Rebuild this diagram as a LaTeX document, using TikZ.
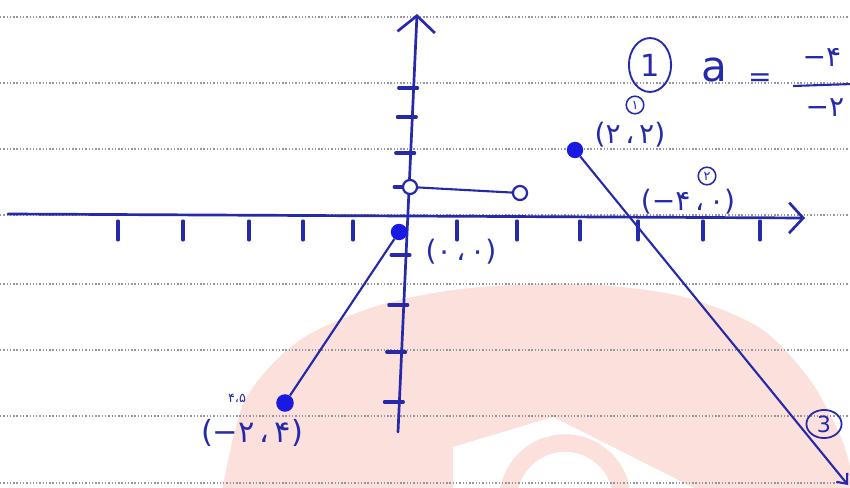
\documentclass[tikz,border=0pt]{standalone}
\usepackage{fontspec}
\setmainfont{DejaVu Sans}
\usetikzlibrary{arrows.meta, calc, shapes.geometric}
\definecolor{ink}{RGB}{38,42,170}
\definecolor{dotblue}{RGB}{25,25,225}
\definecolor{paper}{RGB}{150,150,162}
\definecolor{wmark}{RGB}{251,224,219}

\begin{document}
\begin{tikzpicture}[
    x=0.03cm, y=-0.03cm,
    paperline/.style={draw=paper, line width=1.1pt, dash pattern=on 1.2pt off 1.6pt},
    axis/.style={draw=ink, line width=2.3pt, line cap=round},
    tick/.style={draw=ink, line width=2.6pt, line cap=round},
    graph/.style={draw=ink, line width=1.8pt},
    fdot/.style={circle, fill=dotblue, inner sep=0pt, minimum size=14pt},
    odot/.style={circle, draw=ink, fill=white, line width=1.9pt, inner sep=0pt, minimum size=12pt},
    lbl/.style={text=ink, font=\fontsize{24}{26}\selectfont, inner sep=1pt},
    ring/.style={circle, draw=ink, line width=1.3pt, text=ink, inner sep=0pt,
                 minimum size=15pt, font=\fontsize{11}{12}\selectfont},
]

\path[use as bounding box] (0,0) rectangle (850,488);
\clip (0,0) rectangle (850,488);

% ════════════════════════════════════════════════════════
% 0. WATERMARK
% ════════════════════════════════════════════════════════
\fill[wmark] plot[smooth] coordinates {(222,492) (245,400) (300,340) (380,305)
    (470,288) (580,284) (680,296) (760,328) (810,380) (842,440) (856,492)} -- cycle;
\fill[white] (453,492) -- (453,447) -- (553,417) -- (702,492) -- cycle;
\draw[wmark, line width=15pt] (508,500) arc[start angle=180, delta angle=180, radius=57];

% ════════════════════════════════════════════════════════
% 1. RULED PAPER
% ════════════════════════════════════════════════════════
\foreach \y in {17,83,149,215,284,350,416,483}{
    \draw[paperline] (0,\y) -- (850,\y);
}

% ════════════════════════════════════════════════════════
% 2. AXES
% ════════════════════════════════════════════════════════
\coordinate (xstart) at (8,214);
\coordinate (xend) at (805,218);
\coordinate (ystart) at (398,432);
\coordinate (yend) at (417,14);

\draw[axis, -{Straight Barb[length=12pt, width=26pt]}] (xstart) -- (xend);
\draw[axis, -{Straight Barb[length=14pt, width=32pt]}] (ystart) -- (yend);

% ticks
\foreach \x in {118,183,249,303,353,457,517,580,638,703,760}{
    \draw[tick] (\x,221) -- (\x,240);
}
\foreach \y in {88,117,153,187,255,305,352,402}{
    \pgfmathsetmacro\ax{398+(432-\y)*19/418}
    \draw[tick] (\ax-15,\y) -- (\ax+4,\y);
}

% ════════════════════════════════════════════════════════
% 3. GRAPH PIECES
% ════════════════════════════════════════════════════════
\node[odot] (p1) at (410,187) {};
\node[odot] (p2) at (520,193) {};
\draw[graph] (p1) -- (p2);

\node[fdot] (o) at (399,232) {};
\node[fdot, minimum size=15pt] (a) at (285,403) {};
\draw[graph] (o) -- (a);

\node[fdot] (b) at (575,150) {};
\coordinate (bend) at (848,485);
\draw[graph, -{Straight Barb[length=7pt, width=12pt]}] (b) -- (bend);

% ════════════════════════════════════════════════════════
% 4. LABELS
% ════════════════════════════════════════════════════════
\node[lbl] (lo) at (461,252) {(۰\,،\,۰)};
\node[lbl] (lb) at (630,135) {(۲\,،\,۲)};
\node[ring] (r1) at (635,105) {۱};
\node[lbl] (lc) at (688,202) {(−۴\,،\,۰)};
\node[ring] (r2) at (707,176) {۲};
\node[lbl, font=\fontsize{26}{28}\selectfont] (la) at (252,433) {(−۲\,،\,۴)};
\node[lbl, font=\fontsize{11}{12}\selectfont] (ls) at (237,398) {۴،۵};

% equation at the top right
\node[ring, ellipse, minimum width=36pt, minimum height=46pt, line width=1.6pt,
      font=\fontsize{26}{28}\selectfont] (n1) at (650,65) {1};
\node[lbl, font=\fontsize{36}{38}\selectfont] (av) at (714,70) {a};
\node[lbl, font=\fontsize{24}{26}\selectfont] (eq) at (760,80) {=};
\node[lbl] (num) at (822,57) {−۴};
\coordinate (barL) at (793,86);
\coordinate (barR) at (852,84);
\draw[graph] (barL) -- (barR);
\node[lbl] (den) at (825,108) {−۲};

\node[ring, ellipse, minimum width=30pt, minimum height=24pt, line width=1.5pt,
      font=\fontsize{19}{20}\selectfont] (n3) at (824,424) {3};

\end{tikzpicture}
\end{document}
